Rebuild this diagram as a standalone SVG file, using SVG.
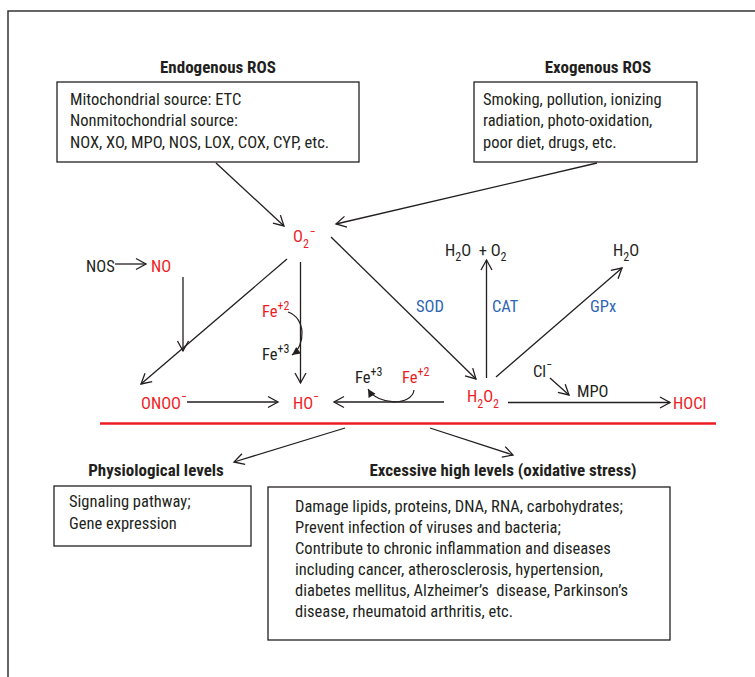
<svg xmlns="http://www.w3.org/2000/svg" width="755" height="677" viewBox="0 0 755 677">
<style>
text{font-family:"Liberation Sans Narrow","Roboto Condensed","DejaVu Sans Condensed",Roboto,"Liberation Sans",sans-serif;font-stretch:condensed;font-size:16.5px;fill:#231f20}
.b{font-weight:bold;font-size:17px}
.r{fill:#ed1c24}
.bl{fill:#2f66b3}
.s{font-size:12px}
.box{fill:none;stroke:#231f20;stroke-width:1.3}
.ln{fill:none;stroke:#231f20;stroke-width:1.3;marker-end:url(#a)}
.cv{fill:none;stroke:#231f20;stroke-width:1.2;marker-end:url(#f)}
</style>
<defs>
<marker id="a" viewBox="-12 -7 14 14" markerWidth="14" markerHeight="14" refX="0" refY="0" orient="auto" markerUnits="userSpaceOnUse">
<path d="M-10,-5.5 L0,0 L-10,5.5" fill="none" stroke="#231f20" stroke-width="1.3"/>
</marker>
<marker id="f" viewBox="-9 -5 10 10" markerWidth="10" markerHeight="10" refX="0" refY="0" orient="auto" markerUnits="userSpaceOnUse">
<path d="M-8,-4 L0,0 L-8,4 Z" fill="#231f20"/>
</marker>
</defs>
<rect width="755" height="677" fill="#fff"/>
<path d="M8,677 L8,11 L755,11" fill="none" stroke="#333" stroke-width="1.5"/>

<g id="endogenous">
<text class="b" x="218" y="73" text-anchor="middle">Endogenous ROS</text>
<rect class="box" x="57" y="82" width="302" height="80"/>
<text x="70" y="105">Mitochondrial source: ETC</text>
<text x="70" y="126">Nonmitochondrial source:</text>
<text x="70" y="148">NOX, XO, MPO, NOS, LOX, COX, CYP, etc.</text>
</g>
<g id="exogenous">
<text class="b" x="598" y="73" text-anchor="middle">Exogenous ROS</text>
<rect class="box" x="474" y="82" width="223" height="80"/>
<text x="483" y="105">Smoking, pollution, ionizing</text>
<text x="483" y="126">radiation, photo-oxidation,</text>
<text x="483" y="148">poor diet, drugs, etc.</text>
</g>

<g id="o2"><text class="r" x="293" y="242">O<tspan class="s" dy="6">2</tspan><tspan class="s" dx="1" dy="-12">−</tspan></text></g>
<g id="nos"><text x="86" y="272">NOS</text></g>
<g id="no"><text class="r" x="151" y="272">NO</text></g>
<g id="fe2a"><text class="r" x="262" y="317">Fe<tspan class="s" dy="-7">+2</tspan></text></g>
<g id="fe3a"><text x="262" y="360">Fe<tspan class="s" dy="-7">+3</tspan></text></g>
<g id="onoo"><text class="r" x="141" y="409">ONOO<tspan class="s" dy="-8">−</tspan></text></g>
<g id="ho"><text class="r" x="293" y="409">HO<tspan class="s" dy="-8">−</tspan></text></g>
<g id="fe3b"><text x="355" y="383">Fe<tspan class="s" dy="-7">+3</tspan></text></g>
<g id="fe2b"><text class="r" x="402" y="383">Fe<tspan class="s" dy="-7">+2</tspan></text></g>
<g id="h2o2"><text class="r" x="467" y="402">H<tspan class="s" dy="6">2</tspan><tspan dy="-6">O</tspan><tspan class="s" dy="6">2</tspan></text></g>
<g id="h2o-o2"><text x="445" y="256" xml:space="preserve">H<tspan class="s" dy="5">2</tspan><tspan dy="-5">O  + O</tspan><tspan class="s" dy="5">2</tspan></text></g>
<g id="h2o"><text x="613" y="256">H<tspan class="s" dy="5">2</tspan><tspan dy="-5">O</tspan></text></g>
<g id="sod"><text class="bl" x="416" y="312">SOD</text></g>
<g id="cat"><text class="bl" x="492" y="312">CAT</text></g>
<g id="gpx"><text class="bl" x="590" y="312">GPx</text></g>
<g id="cl"><text x="533" y="377">Cl<tspan class="s" dy="-8">−</tspan></text></g>
<g id="mpo"><text x="577" y="397">MPO</text></g>
<g id="hocl"><text class="r" x="673" y="409">HOCl</text></g>

<g id="physiological">
<text class="b" x="156" y="476" text-anchor="middle">Physiological levels</text>
<rect class="box" x="54" y="486" width="197" height="60"/>
<text x="69" y="507">Signaling pathway;</text>
<text x="69" y="529">Gene expression</text>
</g>
<g id="excessive">
<text class="b" x="503" y="476" text-anchor="middle">Excessive high levels (oxidative stress)</text>
<rect class="box" x="268" y="487" width="402" height="153"/>
<text x="295" y="512">Damage lipids, proteins, DNA, RNA, carbohydrates;</text>
<text x="295" y="533">Prevent infection of viruses and bacteria;</text>
<text x="295" y="554">Contribute to chronic inflammation and diseases</text>
<text x="295" y="575">including cancer, atherosclerosis, hypertension,</text>
<text x="295" y="596" xml:space="preserve">diabetes mellitus, Alzheimer’s  disease, Parkinson’s</text>
<text x="295" y="617">disease, rheumatoid arthritis, etc.</text>
</g>

<g id="connectors">
<line class="ln" x1="216" y1="163" x2="284" y2="226"/>
<line class="ln" x1="597" y1="163" x2="336" y2="224"/>
<line class="ln" x1="115" y1="264" x2="146" y2="264"/>
<line class="ln" x1="183" y1="277" x2="183" y2="351"/>
<line class="ln" x1="287" y1="259" x2="141" y2="384"/>
<line class="ln" x1="300.5" y1="262" x2="300.5" y2="383"/>
<line class="ln" x1="187" y1="402" x2="278" y2="402"/>
<line class="ln" x1="444" y1="402" x2="334" y2="402"/>
<line class="ln" x1="331" y1="237" x2="476" y2="379"/>
<line class="ln" x1="486.5" y1="378" x2="486.5" y2="260"/>
<line class="ln" x1="496" y1="377" x2="622" y2="268"/>
<line class="ln" x1="550" y1="378" x2="569" y2="395"/>
<line class="ln" x1="508" y1="402.5" x2="670" y2="402.5"/>
<line class="ln" x1="345" y1="428" x2="234" y2="462"/>
<line class="ln" x1="430" y1="428" x2="513" y2="455"/>
<path class="cv" d="M288,312 C306,318 306,345 292,355"/>
<path class="cv" d="M414,390 C412,406 378,406 368,389"/>
<line x1="100" y1="423.5" x2="716" y2="423.5" stroke="#ed1c24" stroke-width="2.5"/>
</g>
</svg>
